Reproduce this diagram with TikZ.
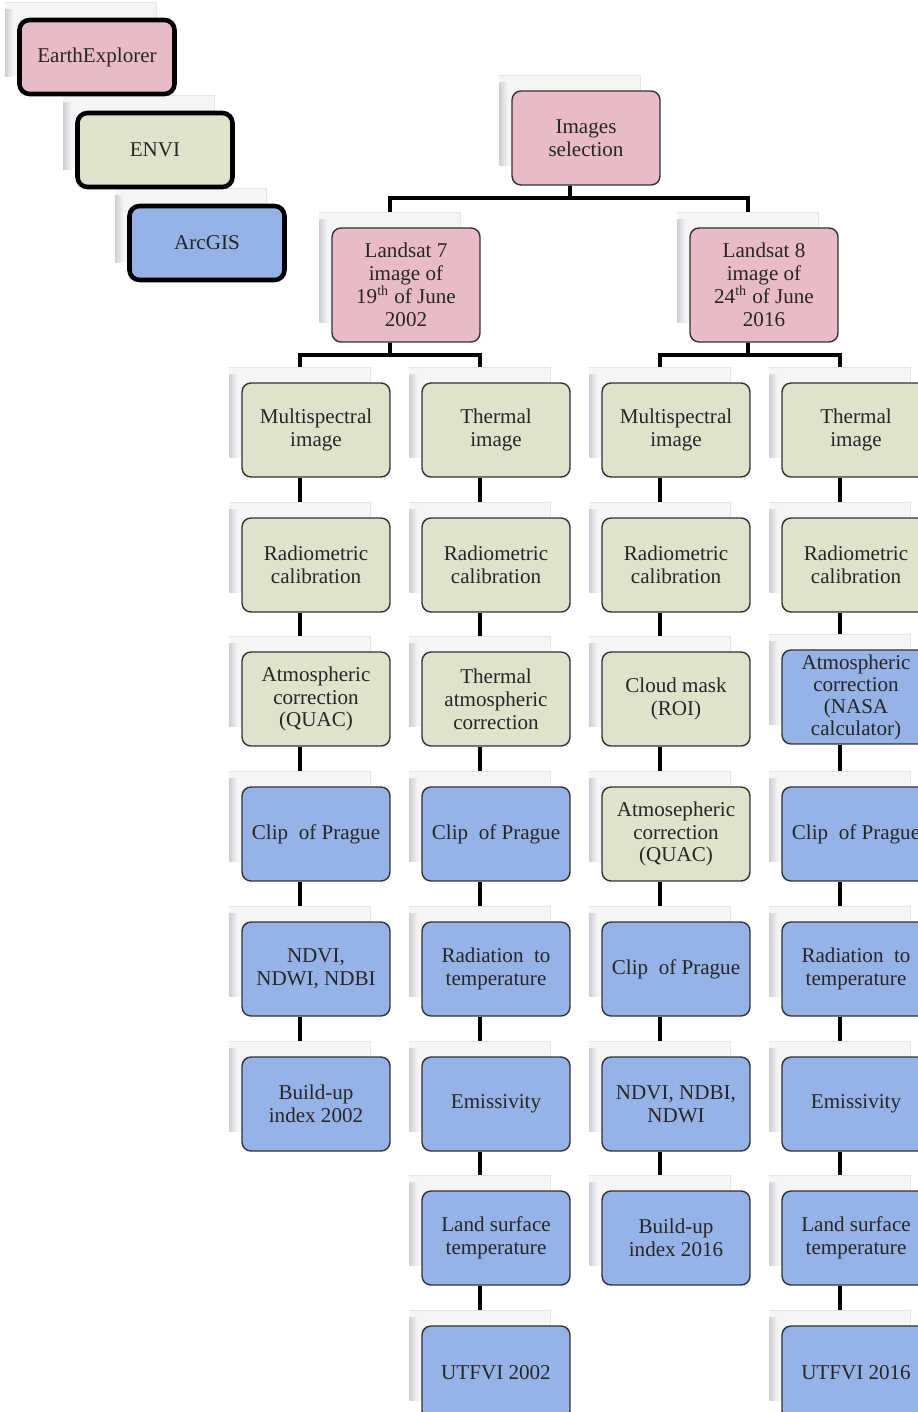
\documentclass[tikz,border=0pt]{standalone}
\usepackage{fontspec}
\setmainfont{Liberation Serif}
\usetikzlibrary{backgrounds}

\definecolor{pinkbox}{HTML}{E8BBC7}
\definecolor{greenbox}{HTML}{DDE4CB}
\definecolor{bluebox}{HTML}{95B3E6}
\definecolor{shadowfill}{HTML}{F5F5F6}
\definecolor{shadowedge}{HTML}{CFCFD6}

\tikzset{
  stepbox/.style={draw=black!80, line width=0.8pt, rounded corners=0.18cm,
    minimum width=2.96cm, minimum height=1.88cm, align=center, inner sep=1pt,
    text=black!85, font=\rmfamily\fontsize{12}{13}\selectfont},
  toolbox/.style={draw=black, line width=2.6pt, rounded corners=0.2cm,
    minimum width=3.1cm, minimum height=1.48cm, text=black!85,
    font=\rmfamily\fontsize{12}{13}\selectfont},
  conn/.style={line width=2.2pt, black},
}

% shadow card behind a box
\newcommand{\boxshadow}[1]{%
  \fill[shadowfill] ([shift={(-0.24cm,0.3cm)}]#1.north west) rectangle ([shift={(-0.4cm,0.4cm)}]#1.south east);
  \draw[black!10, thin] ([shift={(-0.24cm,0.3cm)}]#1.north west) -- ([shift={(-0.4cm,0.3cm)}]#1.north east) -- ++(0,-0.3cm);
  \shade[left color=shadowedge, right color=shadowfill] ([shift={(-0.24cm,0.16cm)}]#1.north west) rectangle ([shift={(-0.08cm,0.4cm)}]#1.south west);
}

\begin{document}
\begin{tikzpicture}[x=0.02cm, y=-0.02cm]
\useasboundingbox (0,0) rectangle (918,1412);

    % Legend of the tools
    \node[toolbox, fill=pinkbox] (ee) at (97,57) {EarthExplorer};
    \node[toolbox, fill=greenbox] (envi) at (155,150) {ENVI};
    \node[toolbox, fill=bluebox] (arc) at (207,243) {ArcGIS};

    % Top of the tree
    \node[stepbox, fill=pinkbox] (sel) at (586,138) {Images\\selection};
    \node[stepbox, fill=pinkbox, minimum height=2.28cm] (ls7) at (406,285) {Landsat 7\\image of\\19\textsuperscript{th} of June\\2002};
    \node[stepbox, fill=pinkbox, minimum height=2.28cm] (ls8) at (764,285) {Landsat 8\\image of\\24\textsuperscript{th} of June\\2016};

    % Landsat 7, multispectral
    \node[stepbox, fill=greenbox] (a1) at (316,430) {Multispectral\\image};
    \node[stepbox, fill=greenbox] (a2) at (316,565) {Radiometric\\calibration};
    \node[stepbox, fill=greenbox] (a3) at (316,699) {Atmospheric\\correction\\(QUAC)};
    \node[stepbox, fill=bluebox] (a4) at (316,834) {Clip\ \ of Prague};
    \node[stepbox, fill=bluebox] (a5) at (316,969) {NDVI,\\NDWI, NDBI};
    \node[stepbox, fill=bluebox] (a6) at (316,1104) {Build-up\\index 2002};

    % Landsat 7, thermal
    \node[stepbox, fill=greenbox] (b1) at (496,430) {Thermal\\image};
    \node[stepbox, fill=greenbox] (b2) at (496,565) {Radiometric\\calibration};
    \node[stepbox, fill=greenbox] (b3) at (496,699) {Thermal\\atmospheric\\correction};
    \node[stepbox, fill=bluebox] (b4) at (496,834) {Clip\ \ of Prague};
    \node[stepbox, fill=bluebox] (b5) at (496,969) {Radiation\ \ to\\temperature};
    \node[stepbox, fill=bluebox] (b6) at (496,1104) {Emissivity};
    \node[stepbox, fill=bluebox] (b7) at (496,1238) {Land surface\\temperature};
    \node[stepbox, fill=bluebox] (b8) at (496,1373) {UTFVI 2002};

    % Landsat 8, multispectral
    \node[stepbox, fill=greenbox] (c1) at (676,430) {Multispectral\\image};
    \node[stepbox, fill=greenbox] (c2) at (676,565) {Radiometric\\calibration};
    \node[stepbox, fill=greenbox] (c3) at (676,699) {Cloud mask\\(ROI)};
    \node[stepbox, fill=greenbox] (c4) at (676,834) {Atmosepheric\\correction\\(QUAC)};
    \node[stepbox, fill=bluebox] (c5) at (676,969) {Clip\ \ of Prague};
    \node[stepbox, fill=bluebox] (c6) at (676,1104) {NDVI, NDBI,\\NDWI};
    \node[stepbox, fill=bluebox] (c7) at (676,1238) {Build-up\\index 2016};

    % Landsat 8, thermal
    \node[stepbox, fill=greenbox] (d1) at (856,430) {Thermal\\image};
    \node[stepbox, fill=greenbox] (d2) at (856,565) {Radiometric\\calibration};
    \node[stepbox, fill=bluebox, font=\rmfamily\fontsize{12}{12.5}\selectfont] (d3) at (856,697) {Atmospheric\\correction\\(NASA\\calculator)};
    \node[stepbox, fill=bluebox] (d4) at (856,834) {Clip\ \ of Prague};
    \node[stepbox, fill=bluebox] (d5) at (856,969) {Radiation\ \ to\\temperature};
    \node[stepbox, fill=bluebox] (d6) at (856,1104) {Emissivity};
    \node[stepbox, fill=bluebox] (d7) at (856,1238) {Land surface\\temperature};
    \node[stepbox, fill=bluebox] (d8) at (856,1373) {UTFVI 2016};

    % Bus points
    \coordinate (selbus) at (570,198);
    \coordinate (l7bus) at (390,355);
    \coordinate (l8bus) at (748,355);

\begin{pgfonlayer}{background}
    % Connectors
    \draw[conn] ([xshift=-0.32cm]sel.south) -- (selbus);
    \draw[conn] ([xshift=-0.32cm]ls7.north) |- (selbus) -| ([xshift=-0.32cm]ls8.north);
    \draw[conn] ([xshift=-0.32cm]ls7.south) -- (l7bus);
    \draw[conn] ([xshift=-0.32cm]a1.north) |- (l7bus) -| ([xshift=-0.32cm]b1.north);
    \draw[conn] ([xshift=-0.32cm]ls8.south) -- (l8bus);
    \draw[conn] ([xshift=-0.32cm]c1.north) |- (l8bus) -| ([xshift=-0.32cm]d1.north);
    \foreach \p/\q in {a1/a2,a2/a3,a3/a4,a4/a5,a5/a6,
                       b1/b2,b2/b3,b3/b4,b4/b5,b5/b6,b6/b7,b7/b8,
                       c1/c2,c2/c3,c3/c4,c4/c5,c5/c6,c6/c7,
                       d1/d2,d2/d3,d3/d4,d4/d5,d5/d6,d6/d7,d7/d8}
      \draw[conn] ([xshift=-0.32cm]\p.south) -- ([xshift=-0.32cm]\q.north);

    % Shadows
    \foreach \n in {ee,envi,arc,sel,ls7,ls8,a1,a2,a3,a4,a5,a6,
                    b1,b2,b3,b4,b5,b6,b7,b8,c1,c2,c3,c4,c5,c6,c7,
                    d1,d2,d3,d4,d5,d6,d7,d8}
      \boxshadow{\n};
\end{pgfonlayer}

\end{tikzpicture}
\end{document}
